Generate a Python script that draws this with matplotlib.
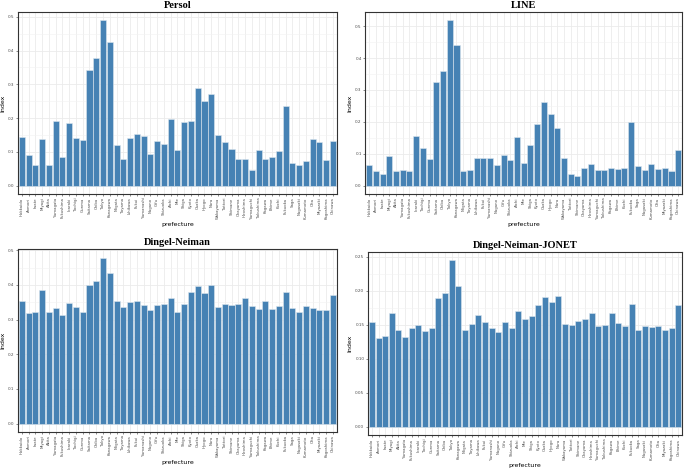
import numpy as np
import matplotlib
matplotlib.use("Agg")
import matplotlib.pyplot as plt
from matplotlib.ticker import MultipleLocator

# --- data ---
prefectures = ["Hokkaido", "Aomori", "Iwate", "Miyagi", "Akita", "Yamagata", "Fukushima",
               "Ibaraki", "Tochigi", "Gunma", "Saitama", "Chiba", "Tokyo", "Kanagawa",
               "Niigata", "Toyama", "Ishikawa", "Fukui", "Yamanashi", "Nagano", "Gifu",
               "Shizuoka", "Aichi", "Mie", "Shiga", "Kyoto", "Osaka", "Hyogo", "Nara",
               "Wakayama", "Tottori", "Shimane", "Okayama", "Hiroshima", "Yamaguchi",
               "Tokushima", "Kagawa", "Ehime", "Kochi", "Fukuoka", "Saga", "Nagasaki",
               "Kumamoto", "Oita", "Miyazaki", "Kagoshima", "Okinawa"]

persol = [0.144, 0.092, 0.062, 0.139, 0.062, 0.192, 0.086, 0.186, 0.142, 0.134,
          0.341, 0.379, 0.490, 0.426, 0.121, 0.080, 0.141, 0.152, 0.148, 0.093,
          0.132, 0.124, 0.196, 0.106, 0.188, 0.190, 0.290, 0.252, 0.272, 0.151,
          0.129, 0.109, 0.080, 0.080, 0.045, 0.107, 0.078, 0.086, 0.104, 0.237,
          0.067, 0.061, 0.072, 0.138, 0.129, 0.077, 0.132]

line = [0.064, 0.045, 0.038, 0.094, 0.046, 0.048, 0.047, 0.157, 0.118, 0.083,
        0.326, 0.360, 0.519, 0.440, 0.045, 0.049, 0.088, 0.088, 0.086, 0.064,
        0.097, 0.080, 0.154, 0.070, 0.129, 0.193, 0.262, 0.226, 0.182, 0.086,
        0.037, 0.031, 0.054, 0.068, 0.049, 0.049, 0.055, 0.052, 0.055, 0.201,
        0.061, 0.050, 0.069, 0.051, 0.054, 0.045, 0.113]

dingel = [0.353, 0.319, 0.323, 0.385, 0.321, 0.334, 0.312, 0.348, 0.336, 0.323,
          0.400, 0.410, 0.479, 0.433, 0.353, 0.337, 0.352, 0.353, 0.342, 0.329,
          0.342, 0.344, 0.363, 0.323, 0.346, 0.379, 0.398, 0.377, 0.400, 0.337,
          0.344, 0.341, 0.344, 0.362, 0.339, 0.330, 0.353, 0.330, 0.340, 0.380,
          0.334, 0.323, 0.338, 0.334, 0.329, 0.329, 0.371]

jonet = [0.155, 0.131, 0.134, 0.168, 0.142, 0.132, 0.145, 0.150, 0.141, 0.146,
         0.190, 0.197, 0.245, 0.207, 0.143, 0.151, 0.165, 0.154, 0.145, 0.140,
         0.154, 0.146, 0.170, 0.158, 0.163, 0.180, 0.191, 0.184, 0.193, 0.151,
         0.150, 0.156, 0.158, 0.167, 0.148, 0.150, 0.167, 0.153, 0.149, 0.181,
         0.143, 0.148, 0.147, 0.149, 0.142, 0.145, 0.180]

panels = [
    ("Persol", persol, [0.026, 0.589, 0.466, 0.386], 0.1, "{:.1f}"),
    ("LINE", line, [0.533, 0.589, 0.463, 0.386], 0.1, "{:.1f}"),
    ("Dingel-Neiman", dingel, [0.026, 0.085, 0.466, 0.387], 0.1, "{:.1f}"),
    ("Dingel-Neiman-JONET", jonet, [0.537, 0.078, 0.459, 0.388], 0.05, "{:.2f}"),
]

fig = plt.figure(figsize=(6.85, 4.72), dpi=100)
x = np.arange(1, len(prefectures) + 1)

for title, vals, rect, step, fmt in panels:
    ax = fig.add_axes(rect)
    top = max(vals)
    pad = top * 0.05
    ax.set_ylim(-pad, top + pad)
    ax.set_xlim(0.4, len(prefectures) + 0.6)

    # grid like ggplot theme_bw
    ax.yaxis.set_major_locator(MultipleLocator(step))
    ax.yaxis.set_minor_locator(MultipleLocator(step / 2))
    ax.set_axisbelow(True)
    ax.grid(which="major", color="#ebebeb", linewidth=0.6)
    ax.grid(which="minor", axis="y", color="#f2f2f2", linewidth=0.4)

    ax.bar(x, vals, width=0.9, color="#4682b4", edgecolor="#dde6ee", linewidth=0.4)

    ax.set_xticks(x)
    ax.set_xticklabels(prefectures, rotation=90, fontsize=2.8, color="#4d4d4d")
    ax.set_yticklabels([fmt.format(t) for t in ax.get_yticks()], fontsize=3, color="#4d4d4d")
    ax.tick_params(length=1.5, width=0.4, pad=1, colors="#333333", labelcolor="#4d4d4d")
    ax.tick_params(which="minor", length=0)
    for s in ax.spines.values():
        s.set_color("#333333")
        s.set_linewidth(0.8)

    ax.set_title(title, fontsize=7.5, family="Liberation Serif", fontweight="bold", pad=3)
    ax.set_xlabel("prefecture", fontsize=4.5, labelpad=2)
    ax.set_ylabel("Index", fontsize=4.5, labelpad=2)

fig.savefig("out.png", dpi=100)
